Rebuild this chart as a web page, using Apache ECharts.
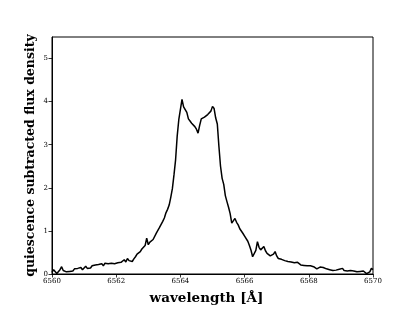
<!DOCTYPE html>
<html>
<head>
<meta charset="utf-8">
<script src="https://cdn.jsdelivr.net/npm/echarts@6/dist/echarts.min.js"></script>
<style>
html,body{margin:0;padding:0;background:#fff;}
#chart{width:415px;height:311px;}
</style>
</head>
<body>
<div id="chart"></div>
<script>
const wavelength = [
6560.00,6560.05,6560.10,6560.15,6560.20,6560.25,6560.30,6560.35,6560.40,6560.45,
6560.50,6560.55,6560.60,6560.65,6560.70,6560.75,6560.80,6560.85,6560.90,6560.95,
6561.00,6561.05,6561.10,6561.15,6561.20,6561.25,6561.30,6561.35,6561.40,6561.45,
6561.50,6561.55,6561.60,6561.65,6561.70,6561.75,6561.80,6561.85,6561.90,6561.95,
6562.00,6562.05,6562.10,6562.15,6562.20,6562.25,6562.30,6562.35,6562.40,6562.45,
6562.50,6562.55,6562.60,6562.65,6562.70,6562.75,6562.80,6562.85,6562.90,6562.95,
6563.00,6563.05,6563.10,6563.15,6563.20,6563.25,6563.30,6563.35,6563.40,6563.45,
6563.50,6563.55,6563.60,6563.65,6563.70,6563.75,6563.80,6563.85,6563.90,6563.95,
6564.00,6564.05,6564.10,6564.15,6564.20,6564.25,6564.30,6564.35,6564.40,6564.45,
6564.50,6564.55,6564.60,6564.65,6564.70,6564.75,6564.80,6564.85,6564.90,6564.95,
6565.00,6565.05,6565.10,6565.15,6565.20,6565.25,6565.30,6565.35,6565.40,6565.45,
6565.50,6565.55,6565.60,6565.65,6565.70,6565.75,6565.80,6565.85,6565.90,6565.95,
6566.00,6566.05,6566.10,6566.15,6566.20,6566.25,6566.30,6566.35,6566.40,6566.45,
6566.50,6566.55,6566.60,6566.65,6566.70,6566.75,6566.80,6566.85,6566.90,6566.95,
6567.00,6567.05,6567.10,6567.15,6567.20,6567.25,6567.30,6567.35,6567.40,6567.45,
6567.50,6567.55,6567.60,6567.65,6567.70,6567.75,6567.80,6567.85,6567.90,6567.95,
6568.00,6568.05,6568.10,6568.15,6568.20,6568.25,6568.30,6568.35,6568.40,6568.45,
6568.50,6568.55,6568.60,6568.65,6568.70,6568.75,6568.80,6568.85,6568.90,6568.95,
6569.00,6569.05,6569.10,6569.15,6569.20,6569.25,6569.30,6569.35,6569.40,6569.45,
6569.50,6569.55,6569.60,6569.65,6569.70,6569.75,6569.80,6569.85,6569.90,6569.95,
6570.00
];
const flux = [
0.04,0.10,0.06,0.01,0.00,0.10,0.17,0.08,0.11,0.05,
0.09,0.06,0.10,0.07,0.12,0.09,0.13,0.11,0.15,0.10,
0.14,0.18,0.13,0.17,0.14,0.19,0.16,0.21,0.17,0.22,
0.20,0.24,0.19,0.25,0.29,0.24,0.28,0.25,0.27,0.24,
0.28,0.26,0.30,0.27,0.29,0.33,0.28,0.36,0.31,0.34,
0.29,0.35,0.40,0.46,0.44,0.52,0.58,0.55,0.66,0.83,
0.68,0.74,0.72,0.80,0.84,0.95,0.98,1.08,1.15,1.22,
1.30,1.42,1.50,1.60,1.78,1.98,2.30,2.65,3.20,3.58,
3.62,4.05,3.88,3.86,3.75,3.60,3.55,3.50,3.46,3.42,
3.36,3.27,3.45,3.60,3.56,3.64,3.62,3.70,3.72,3.78,
3.89,3.84,3.62,3.48,2.96,2.50,2.22,2.08,1.82,1.68,
1.55,1.40,1.18,1.22,1.29,1.20,1.14,1.05,1.02,0.94,
0.88,0.84,0.76,0.66,0.55,0.40,0.36,0.55,0.75,0.62,
0.56,0.60,0.64,0.54,0.48,0.44,0.42,0.40,0.46,0.52,
0.42,0.36,0.38,0.34,0.33,0.31,0.33,0.29,0.30,0.28,
0.27,0.26,0.25,0.27,0.23,0.21,0.22,0.20,0.21,0.19,
0.18,0.19,0.15,0.17,0.13,0.12,0.11,0.16,0.13,0.15,
0.17,0.12,0.14,0.10,0.12,0.08,0.12,0.09,0.13,0.11,
0.10,0.13,0.08,0.11,0.07,0.09,0.08,0.04,0.07,0.03,
0.05,0.02,0.06,0.03,0.07,0.05,0.01,0.00,0.05,0.13,
0.10
];
const xTicks = [6560, 6562, 6564, 6566, 6568, 6570];
const yTicks = [0, 1, 2, 3, 4, 5];
const xTitle = 'wavelength [Å]';
const yTitle = 'quiescence subtracted flux density';

const chart = echarts.init(document.getElementById('chart'), null, {renderer: 'canvas'});
const serif = '"DejaVu Serif", "Liberation Serif", serif';
chart.setOption({
  animation: false,
  backgroundColor: '#ffffff',
  grid: {left: 52, right: 42, top: 37, bottom: 37, show: true, borderColor: '#000', borderWidth: 1, backgroundColor: 'transparent'},
  xAxis: {
    type: 'value', min: 6560, max: 6570, interval: 2,
    name: xTitle, nameLocation: 'middle', nameGap: 17, nameMoveOverlap: false,
    nameTextStyle: {fontFamily: serif, fontWeight: 'bold', fontSize: 13.5, color: '#000', padding: [0, 12, 0, 0]},
    axisLine: {show: true, onZero: false, lineStyle: {color: '#000', width: 1}},
    axisTick: {show: true, inside: false, length: 3.5, customValues: xTicks, lineStyle: {color: '#000', width: 0.8}},
    axisLabel: {fontFamily: serif, fontSize: 7, color: '#000', margin: 4, customValues: xTicks, formatter: v => String(v)},
    splitLine: {show: false}
  },
  yAxis: {
    type: 'value', min: 0, max: 5.5,
    name: yTitle, nameLocation: 'middle', nameGap: 15, nameMoveOverlap: false,
    nameTextStyle: {fontFamily: serif, fontWeight: 'bold', fontSize: 12.5, color: '#000'},
    axisLine: {show: true, onZero: false, lineStyle: {color: '#000', width: 1}},
    axisTick: {show: true, inside: false, length: 3.5, customValues: yTicks, lineStyle: {color: '#000', width: 0.8}},
    axisLabel: {fontFamily: serif, fontSize: 7, color: '#000', margin: 4, customValues: yTicks},
    splitLine: {show: false}
  },
  series: [{
    type: 'line',
    data: wavelength.map((w, i) => [w, flux[i]]),
    showSymbol: false,
    lineStyle: {color: '#000', width: 1.5},
    clip: true
  }]
});
</script>
</body>
</html>
